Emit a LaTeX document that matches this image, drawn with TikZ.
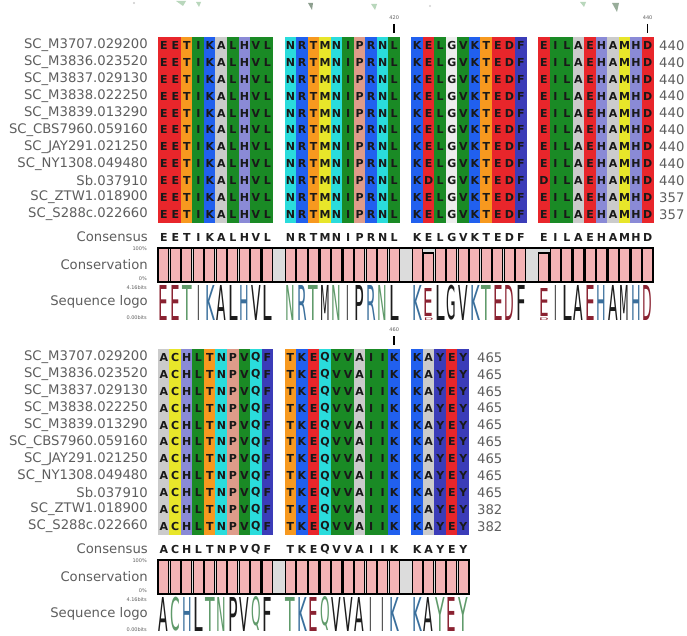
\documentclass[tikz,border=0pt]{standalone}
\usepackage{fontspec}
\usepackage{graphicx}
\setmainfont{DejaVu Sans}

% residue background colours (RasMol-like amino acid scheme)
\definecolor{resD}{HTML}{E8262B}\colorlet{resE}{resD}
\definecolor{resK}{HTML}{2160EE}\colorlet{resR}{resK}
\definecolor{resT}{HTML}{F7991F}\colorlet{resS}{resT}
\definecolor{resF}{HTML}{3B3CB8}\colorlet{resY}{resF}
\definecolor{resN}{HTML}{2ADCDC}\colorlet{resQ}{resN}
\definecolor{resG}{HTML}{EDEDED}
\definecolor{resL}{HTML}{1A8A25}\colorlet{resV}{resL}\colorlet{resI}{resL}
\definecolor{resH}{HTML}{8A8AD6}
\definecolor{resP}{HTML}{DE9C8A}
\definecolor{resA}{HTML}{CBCBCB}
\definecolor{resC}{HTML}{E8E62A}\colorlet{resM}{resC}

% sequence logo letter colours
\definecolor{lgred}{HTML}{8A2231}
\definecolor{lgblue}{HTML}{3A6F9C}
\definecolor{lggreen}{HTML}{5F9A6A}
\definecolor{lgblack}{HTML}{1C1C1C}
\colorlet{lgD}{lgred}\colorlet{lgE}{lgred}
\colorlet{lgK}{lgblue}\colorlet{lgR}{lgblue}\colorlet{lgH}{lgblue}
\colorlet{lgS}{lggreen}\colorlet{lgT}{lggreen}\colorlet{lgN}{lggreen}
\colorlet{lgQ}{lggreen}\colorlet{lgY}{lggreen}\colorlet{lgC}{lggreen}
\colorlet{lgA}{lgblack}\colorlet{lgV}{lgblack}\colorlet{lgL}{lgblack}
\colorlet{lgI}{lgblack}\colorlet{lgM}{lgblack}\colorlet{lgF}{lgblack}
\colorlet{lgP}{lgblack}\colorlet{lgG}{lgblack}\colorlet{lgW}{lgblack}

\definecolor{labgray}{HTML}{5E5E5E}
\definecolor{conspink}{HTML}{F4B3B5}
\definecolor{consbg}{HTML}{DCDCDC}
\definecolor{fadegreen}{HTML}{9CC7A0}

% geometry (1 unit = 1pt)
\def\cw{11.52}
\def\xz{158}
\def\rh{16.9}

\def\rowlabels{SC\_M3707.029200,SC\_M3836.023520,SC\_M3837.029130,SC\_M3838.022250,SC\_M3839.013290,SC\_CBS7960.059160,SC\_JAY291.021250,SC\_NY1308.049480,Sb.037910,SC\_ZTW1.018900,SC\_S288c.022660}
\def\seqA{E,E,T,I,K,A,L,H,V,L,-,N,R,T,M,N,I,P,R,N,L,-,K,E,L,G,V,K,T,E,D,F,-,E,I,L,A,E,H,A,M,H,D}
\def\seqAsb{E,E,T,I,K,A,L,H,V,L,-,N,R,T,M,N,I,P,R,N,L,-,K,D,L,G,V,K,T,E,D,F,-,D,I,L,A,E,H,A,M,H,D}
\def\logoA{E,E,T,I,K,A,L,H,V,L,-,N,R,T,M,N,I,P,R,N,L,-,K,x,L,G,V,K,T,E,D,F,-,x,I,L,A,E,H,A,M,H,D}
\def\seqB{A,C,H,L,T,N,P,V,Q,F,-,T,K,E,Q,V,V,A,I,I,K,-,K,A,Y,E,Y}

\newcommand\logoglyph[2]{\if#1I\resizebox*{2.6pt}{#2pt}{I}\else\resizebox*{9.6pt}{#2pt}{#1}\fi}

\tikzset{
  rowlab/.style={anchor=east,inner sep=0pt,text=labgray,font=\fontsize{13.2}{14}\selectfont},
  rownum/.style={anchor=west,inner sep=0pt,text=labgray,font=\fontsize{13.2}{14}\selectfont},
  cell/.style={minimum width=11.8pt,minimum height=17.2pt,inner sep=0pt,outer sep=0pt,
    text=black!90,font=\bfseries\fontsize{11}{11}\selectfont},
  conslet/.style={inner sep=0pt,text=black!88,font=\bfseries\fontsize{11}{11}\selectfont},
  tiny/.style={inner sep=0pt,text=labgray,font=\fontsize{5}{5}\selectfont},
  tick/.style={line width=1.7pt,black},
  bar/.style={fill=conspink,draw=black,line width=1.1pt},
  boxline/.style={draw=black,line width=1.3pt},
  logo/.style={anchor=south,inner sep=0pt,outer sep=0pt},
  fade/.style={fill=fadegreen,opacity=0.7}
}

\begin{document}
\begin{tikzpicture}[x=1pt,y=-1pt]
\useasboundingbox (0,0) rectangle (687,636);
\fill[white] (0,0) rectangle (687,636);

% faint remains of glyph feet along the top edge
\fill[fade] (176,1) -- (186,1) -- (183,6) -- cycle;
\fill[gray!40] (134,3) circle (1.2);
\fill[fade] (196,2) -- (201,2) -- (199,7) -- cycle;
\fill[fadegreen!60!black,opacity=0.7] (308,3) -- (313,3) -- (312,10) -- cycle;
\fill[fade] (371,4) -- (377,4) -- (375,10) -- cycle;
\fill[gray!35] (430,6) circle (1.2);
\fill[fade] (580,2) -- (586,2) -- (584,7) -- cycle;
\fill[fadegreen!70!black,opacity=0.7] (612,3) -- (619,3) -- (617,12) -- cycle;

%% ---------------- block 1: residues 401-440 ----------------
\node[tiny] (a-r420) at ({\xz+20.5*\cw},18) {420};
\node[tiny] (a-r440) at ({\xz+42.5*\cw},18) {440};
\draw[tick] ({\xz+20.5*\cw},24) -- ({\xz+20.5*\cw},33);
\draw[tick] ({\xz+42.5*\cw},24) -- ({\xz+42.5*\cw},33);

\foreach \lab [count=\r from 0] in \rowlabels {
  \pgfmathsetmacro\yc{37+(\r+0.5)*\rh}
  \node[rowlab] (a-lab-\r) at (148,\yc) {\lab};
  \ifnum\r=8 \let\cur\seqAsb \else \let\cur\seqA \fi
  \foreach \c [count=\k from 0] in \cur {
    \if\c-\else
      \node[cell,fill=res\c] (a-\r-\k) at ({\xz+(\k+0.5)*\cw},\yc) {\c};
    \fi
  }
  \ifnum\r>8 \def\nn{357}\else\def\nn{440}\fi
  \node[rownum] (a-num-\r) at (659,\yc) {\nn};
}

\node[rowlab] (a-conslab) at (148,237) {Consensus};
\foreach \c [count=\k from 0] in \seqA {
  \if\c-\else
    \node[conslet] (a-cons-\k) at ({\xz+(\k+0.5)*\cw},237) {\c};
  \fi
}

\node[rowlab] (a-conservlab) at (148,265) {Conservation};
\node[tiny,anchor=east] (a-c100) at (147,249) {100\%};
\node[tiny,anchor=east] (a-c0) at (147,279) {0\%};
\fill[consbg] (\xz,248) rectangle ({\xz+43*\cw},282);
\foreach \k in {0,...,42} {
  \pgfmathtruncatemacro\isgap{(\k==10)||(\k==21)||(\k==32)}
  \ifnum\isgap=0
    \pgfmathsetmacro\yt{((\k==23)||(\k==33)) ? 253 : 248}
    \draw[bar] ({\xz+\k*\cw+0.7},\yt) rectangle ({\xz+(\k+1)*\cw-0.7},282);
  \fi
}
\draw[boxline] (\xz,248) rectangle ({\xz+43*\cw},282);

\node[rowlab] (a-logolab) at (148,302) {Sequence logo};
\node[tiny,anchor=east] (a-b416) at (147,288) {4.16bits};
\node[tiny,anchor=east] (a-b0) at (147,318) {0.00bits};
\foreach \c [count=\k from 0] in \logoA {
  \if\c-\else\if\c x\else
    \node[logo,text=lg\c] (a-logo-\k) at ({\xz+(\k+0.5)*\cw},320) {\logoglyph{\c}{35}};
  \fi\fi
}
% the two mixed columns: a tall E over a small D
\foreach \k in {23,33} {
  \node[logo,text=lgD] (a-logo-\k d) at ({\xz+(\k+0.5)*\cw},320) {\resizebox*{9.6pt}{2.6pt}{D}};
  \node[logo,text=lgE] (a-logo-\k e) at ({\xz+(\k+0.5)*\cw},316.3) {\resizebox*{9.6pt}{28pt}{E}};
}

%% ---------------- block 2: residues 441-465 ----------------
\node[tiny] (b-r460) at ({\xz+20.5*\cw},330) {460};
\draw[tick] ({\xz+20.5*\cw},336) -- ({\xz+20.5*\cw},345);

\foreach \lab [count=\r from 0] in \rowlabels {
  \pgfmathsetmacro\yc{349+(\r+0.5)*\rh}
  \node[rowlab] (b-lab-\r) at (148,\yc) {\lab};
  \foreach \c [count=\k from 0] in \seqB {
    \if\c-\else
      \node[cell,fill=res\c] (b-\r-\k) at ({\xz+(\k+0.5)*\cw},\yc) {\c};
    \fi
  }
  \ifnum\r>8 \def\nn{382}\else\def\nn{465}\fi
  \node[rownum] (b-num-\r) at (477,\yc) {\nn};
}

\node[rowlab] (b-conslab) at (148,549) {Consensus};
\foreach \c [count=\k from 0] in \seqB {
  \if\c-\else
    \node[conslet] (b-cons-\k) at ({\xz+(\k+0.5)*\cw},549) {\c};
  \fi
}

\node[rowlab] (b-conservlab) at (148,577) {Conservation};
\node[tiny,anchor=east] (b-c100) at (147,561) {100\%};
\node[tiny,anchor=east] (b-c0) at (147,591) {0\%};
\fill[consbg] (\xz,560) rectangle ({\xz+27*\cw},594);
\foreach \k in {0,...,26} {
  \pgfmathtruncatemacro\isgap{(\k==10)||(\k==21)}
  \ifnum\isgap=0
    \draw[bar] ({\xz+\k*\cw+0.7},560) rectangle ({\xz+(\k+1)*\cw-0.7},594);
  \fi
}
\draw[boxline] (\xz,560) rectangle ({\xz+27*\cw},594);

\node[rowlab] (b-logolab) at (148,614) {Sequence logo};
\node[tiny,anchor=east] (b-b416) at (147,600) {4.16bits};
\node[tiny,anchor=east] (b-b0) at (147,630) {0.00bits};
\foreach \c [count=\k from 0] in \seqB {
  \if\c-\else
    \node[logo,text=lg\c] (b-logo-\k) at ({\xz+(\k+0.5)*\cw},631) {\logoglyph{\c}{34}};
  \fi
}
\end{tikzpicture}
\end{document}
